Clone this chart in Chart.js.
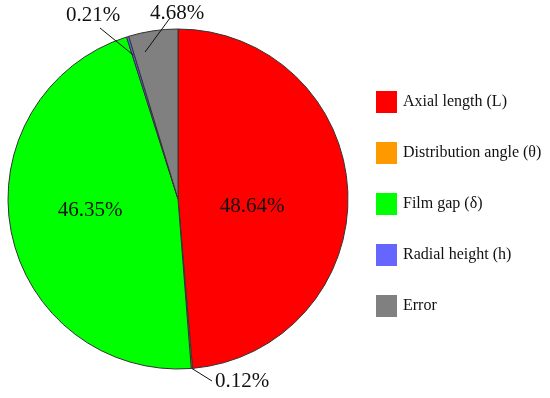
<!DOCTYPE html>
<html>
<head>
<meta charset="utf-8">
<script src="https://cdn.jsdelivr.net/npm/chart.js@4.4.1/dist/chart.umd.min.js"></script>
<style>
  html, body { margin: 0; padding: 0; background: #fff; }
  #wrap { width: 550px; height: 398px; position: relative; }
</style>
</head>
<body>
<div id="wrap"><canvas id="chart"></canvas></div>
<script>
const categories = ['Axial length (L)', 'Distribution angle (\u03b8)', 'Film gap (\u03b4)', 'Radial height (h)', 'Error'];
const shares = [48.64, 0.12, 46.35, 0.21, 4.68];
const sliceLabels = ['48.64%', '0.12%', '46.35%', '0.21%', '4.68%'];
const colors = ['#ff0000', '#ff9900', '#00ff00', '#6666ff', '#808080'];

// where each percentage label goes, relative to the pie centre (px)
// lead: leader line from text (from) to a point in the slice (t = fraction along slice, r = fraction of radius)
const labelLayout = [
    { dx: 74, dy: 7 },
    { dx: 64, dy: 182, lead: { from: [34, 182], t: 0.5, r: 1.0 } },
    { dx: -88, dy: 11 },
    { dx: -85, dy: -184, lead: { from: [-78, -171], t: 0.5, r: 0.886 } },
    { dx: -1, dy: -186, lead: { from: [-8, -181], t: 0.25, r: 0.886 } }
];

const serif = '"Liberation Serif", "Times New Roman", serif';

const labelPlugin = {
    id: 'labelPlugin',
    afterDraw(chart) {
        const ctx = chart.ctx;
        const meta = chart.getDatasetMeta(0);
        ctx.save();
        meta.data.forEach((arc, i) => {
            const { x, y, startAngle, endAngle, outerRadius } = arc.getProps(['x', 'y', 'startAngle', 'endAngle', 'outerRadius'], true);
            const lay = labelLayout[i];
            if (lay.lead) {
                const a = startAngle + (endAngle - startAngle) * lay.lead.t;
                const px = x + Math.cos(a) * outerRadius * lay.lead.r;
                const py = y + Math.sin(a) * outerRadius * lay.lead.r;
                ctx.beginPath();
                ctx.moveTo(x + lay.lead.from[0], y + lay.lead.from[1]);
                ctx.lineTo(px, py);
                ctx.strokeStyle = '#111';
                ctx.lineWidth = 1;
                ctx.stroke();
            }
            ctx.font = '21px ' + serif;
            ctx.fillStyle = '#111';
            ctx.textAlign = 'center';
            ctx.textBaseline = 'middle';
            ctx.fillText(sliceLabels[i], x + lay.dx, y + lay.dy);
        });

        // legend
        ctx.font = '16px ' + serif;
        ctx.textAlign = 'left';
        ctx.textBaseline = 'middle';
        categories.forEach((c, i) => {
            const cy = 102 + i * 51;
            ctx.fillStyle = colors[i];
            ctx.fillRect(376, cy - 11, 21, 22);
            ctx.fillStyle = '#111';
            ctx.fillText(c, 403, cy);
        });
        ctx.restore();
    }
};

new Chart(document.getElementById('chart'), {
    type: 'pie',
    data: {
        labels: categories,
        datasets: [{
            data: shares,
            backgroundColor: colors,
            borderColor: '#333',
            borderWidth: 1,
            radius: 170
        }]
    },
    options: {
        responsive: true,
        maintainAspectRatio: false,
        animation: false,
        layout: { padding: { left: 8, right: 202, top: 29, bottom: 29 } },
        plugins: {
            legend: { display: false },
            tooltip: { enabled: false }
        }
    },
    plugins: [labelPlugin]
});
</script>
</body>
</html>
